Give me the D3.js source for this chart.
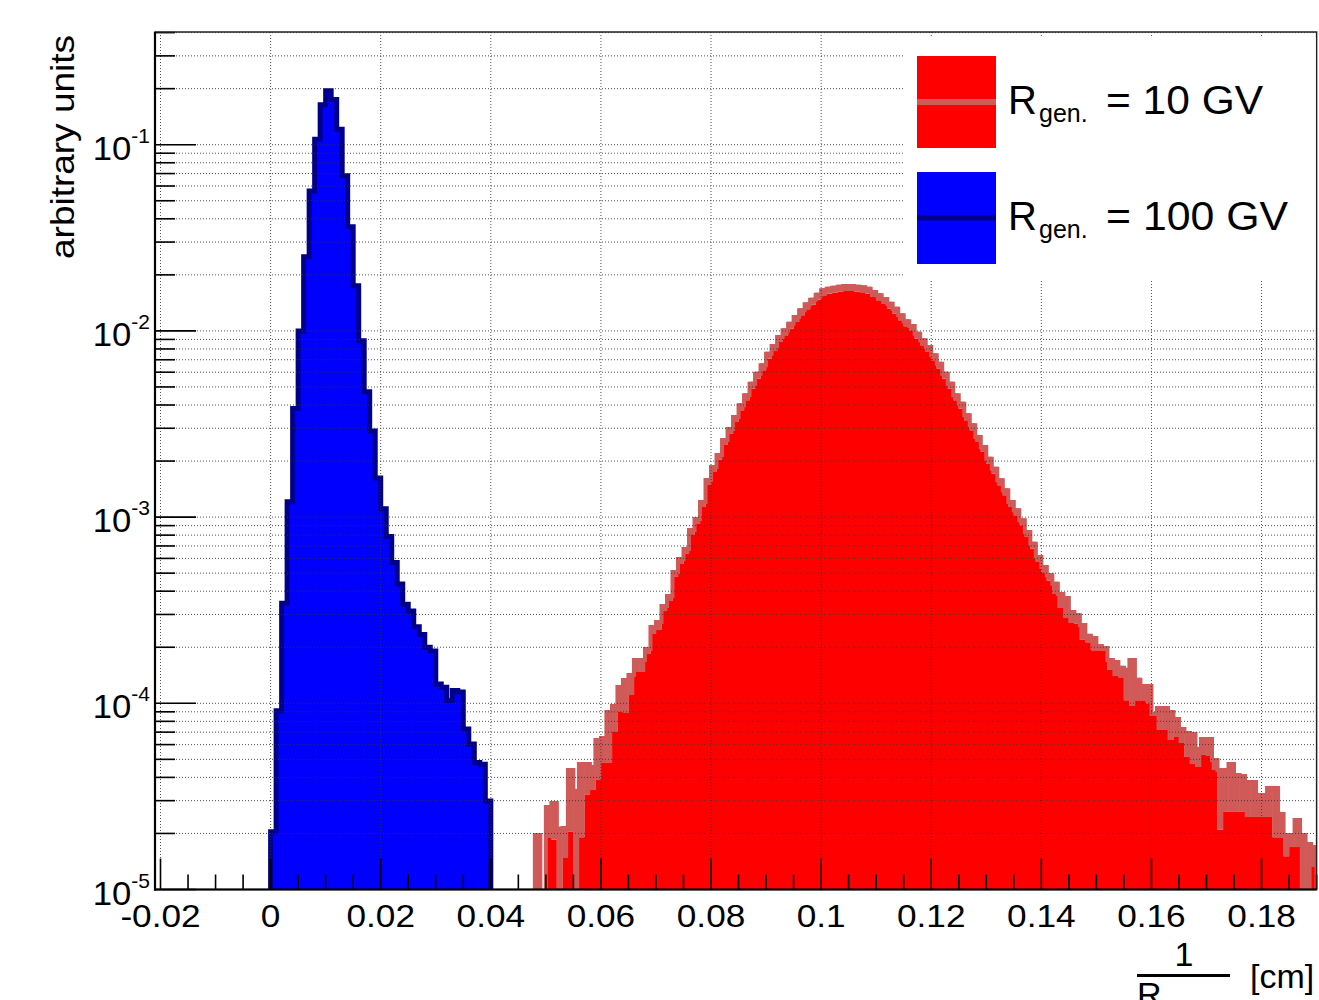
<!DOCTYPE html>
<html><head><meta charset="utf-8">
<script src="https://cdn.jsdelivr.net/npm/d3@7"></script>
<style>html,body{margin:0;padding:0;background:#fff;} svg{display:block;}</style>
</head><body>
<svg id="chart" width="1319" height="1000"></svg>
<script>
// ---------------- data ----------------
const binWidth = 0.001;

// R_gen = 100 GV (blue), bins of 0.001 starting at 0.000
const blueStart = 0.000;
const blueValues = [
  2.04e-5, 9.12e-5, 3.45e-4, 1.21e-3, 3.83e-3, 1.00e-2, 2.50e-2, 5.65e-2, 0.107, 0.164,
  0.195, 0.175, 0.121, 0.0681, 0.0362, 0.0175, 8.85e-3, 4.71e-3, 2.90e-3, 1.62e-3,
  1.11e-3, 7.87e-4, 5.70e-4, 4.37e-4, 3.40e-4, 3.13e-4, 2.58e-4, 2.34e-4, 2.00e-4, 1.91e-4,
  1.27e-4, 1.22e-4, 1.035e-4, 1.17e-4, 1.15e-4, 7.28e-5, 6.04e-5, 4.81e-5, 4.7e-5, 2.99e-5
];

// R_gen = 10 GV (red), bins of 0.001 starting at 0.048
const redStart = 0.048;
// upper edge of the light-red band
const redBand = [
  2.01e-5, 0, 2.84e-5, 2.99e-5, 2.17e-5, 2.19e-5, 4.49e-5, 3.47e-5, 4.84e-5, 4.84e-5,
  4.66e-5, 6.51e-5, 6.67e-5, 9.20e-5, 9.91e-5, 1.254e-4, 1.367e-4, 1.454e-4, 1.751e-4, 1.751e-4,
  2.006e-4, 2.634e-4, 2.802e-4, 3.414e-4, 3.864e-4, 5.20e-4, 6.11e-4, 6.91e-4, 8.74e-4, 1.001e-3,
  1.235e-3, 1.622e-3, 1.905e-3, 2.21e-3, 2.66e-3, 3.05e-3, 3.53e-3, 4.09e-3, 4.62e-3, 5.34e-3,
  6.04e-3, 6.70e-3, 7.73e-3, 8.50e-3, 9.51e-3, 1.033e-2, 1.120e-2, 1.217e-2, 1.322e-2, 1.424e-2,
  1.508e-2, 1.604e-2, 1.693e-2, 1.727e-2, 1.748e-2, 1.770e-2, 1.786e-2, 1.786e-2, 1.770e-2, 1.757e-2,
  1.727e-2, 1.658e-2, 1.592e-2, 1.521e-2, 1.435e-2, 1.349e-2, 1.243e-2, 1.154e-2, 1.089e-2, 9.90e-3,
  9.13e-3, 8.40e-3, 7.58e-3, 6.83e-3, 6.04e-3, 5.34e-3, 4.62e-3, 4.17e-3, 3.61e-3, 3.19e-3,
  2.76e-3, 2.44e-3, 2.11e-3, 1.865e-3, 1.616e-3, 1.428e-3, 1.235e-3, 1.115e-3, 9.85e-4, 8.52e-4,
  7.38e-4, 6.26e-4, 5.53e-4, 4.99e-4, 4.50e-4, 3.96e-4, 3.77e-4, 3.17e-4, 3.05e-4, 2.70e-4,
  2.36e-4, 2.30e-4, 2.08e-4, 2.03e-4, 1.75e-4, 1.71e-4, 1.59e-4, 1.55e-4, 1.75e-4, 1.37e-4,
  1.27e-4, 1.27e-4, 8.98e-5, 9.67e-5, 9.67e-5, 9.20e-5, 8.44e-5, 7.46e-5, 7.10e-5, 7.01e-5,
  5.83e-5, 6.59e-5, 6.59e-5, 5.08e-5, 4.49e-5, 4.49e-5, 4.84e-5, 4.22e-5, 4.17e-5, 3.87e-5,
  3.87e-5, 3.30e-5, 3.30e-5, 3.60e-5, 3.60e-5, 2.61e-5, 2.01e-5, 2.01e-5, 2.42e-5, 2.01e-5,
  1.80e-5, 1.73e-5
];
// filled histogram (solid red)
const redFill = [
  0, 0, 1.89e-5, 1.85e-5, 0, 1.49e-5, 2.04e-5, 0, 1.91e-5, 3.22e-5,
  3.42e-5, 3.87e-5, 4.78e-5, 4.78e-5, 7.01e-5, 8.98e-5, 8.87e-5, 1.108e-4, 1.473e-4, 1.473e-4,
  1.840e-4, 2.357e-4, 2.475e-4, 3.13e-4, 3.54e-4, 4.77e-4, 5.60e-4, 6.34e-4, 8.01e-4, 9.18e-4,
  1.133e-3, 1.487e-3, 1.747e-3, 2.03e-3, 2.44e-3, 2.80e-3, 3.24e-3, 3.75e-3, 4.24e-3, 4.90e-3,
  5.54e-3, 6.14e-3, 7.09e-3, 7.79e-3, 8.72e-3, 9.47e-3, 1.027e-2, 1.116e-2, 1.212e-2, 1.306e-2,
  1.383e-2, 1.471e-2, 1.552e-2, 1.584e-2, 1.603e-2, 1.623e-2, 1.638e-2, 1.638e-2, 1.623e-2, 1.611e-2,
  1.584e-2, 1.520e-2, 1.460e-2, 1.395e-2, 1.316e-2, 1.237e-2, 1.140e-2, 1.058e-2, 9.99e-3, 9.08e-3,
  8.37e-3, 7.70e-3, 6.95e-3, 6.26e-3, 5.54e-3, 4.90e-3, 4.24e-3, 3.82e-3, 3.31e-3, 2.93e-3,
  2.53e-3, 2.24e-3, 1.93e-3, 1.710e-3, 1.482e-3, 1.309e-3, 1.133e-3, 1.022e-3, 9.03e-4, 7.81e-4,
  6.77e-4, 5.74e-4, 5.01e-4, 4.55e-4, 3.90e-4, 3.25e-4, 2.87e-4, 2.70e-4, 2.67e-4, 2.19e-4,
  2.13e-4, 1.93e-4, 1.93e-4, 1.91e-4, 1.51e-4, 1.40e-4, 1.38e-4, 1.04e-4, 9.67e-5, 1.04e-4,
  1.04e-4, 1.00e-4, 8.65e-5, 7.19e-5, 7.19e-5, 6.35e-5, 6.59e-5, 6.12e-5, 5.15e-5, 4.72e-5,
  4.55e-5, 5.28e-5, 5.21e-5, 4.38e-5, 2.09e-5, 2.61e-5, 2.61e-5, 2.61e-5, 2.61e-5, 2.45e-5,
  2.45e-5, 2.45e-5, 2.45e-5, 2.45e-5, 1.91e-5, 1.89e-5, 1.51e-5, 1.69e-5, 1.69e-5, 0,
  0, 1.32e-5
];

const xTickValues = [-0.02, 0, 0.02, 0.04, 0.06, 0.08, 0.1, 0.12, 0.14, 0.16, 0.18];
const xTickLabels = ["-0.02", "0", "0.02", "0.04", "0.06", "0.08", "0.1", "0.12", "0.14", "0.16", "0.18"];
const yTickExponents = [-5, -4, -3, -2, -1];
const legendLabels = ["= 10 GV", "= 100 GV"];

// ---------------- layout ----------------
const svg = d3.select("#chart");
const L = 155, R = 1316.6, T = 32, B = 889.5;
const x = d3.scaleLinear().domain([-0.021, 0.19]).range([L, R]);
const y = d3.scaleLog().domain([1e-5, 0.403]).range([B, T]);
const FONT = "'Liberation Sans', Arial, Helvetica, sans-serif";
const RED = "#ff0000", BAND = "#d05a58", BLUE = "#0000ff", NAVY = "#00008b";

svg.append("rect").attr("width", 1319).attr("height", 1000).attr("fill", "#fff");
svg.append("defs").append("clipPath").attr("id", "plotclip")
  .append("rect").attr("x", L).attr("y", T).attr("width", R - L).attr("height", B - T);

const plot = svg.append("g").attr("clip-path", "url(#plotclip)");

function yc(v) { return v > 0 ? Math.min(y(v), B) : B; }
function steps(start, values, fn) {
  const pts = [];
  values.forEach((v, i) => {
    const x0 = x(start + i * binWidth), x1 = x(start + (i + 1) * binWidth);
    const yy = fn(v);
    pts.push([x0, yy], [x1, yy]);
  });
  return pts;
}
const line = d3.line();

// red filled histogram
{
  const end = redStart + redFill.length * binWidth;
  const pts = [[x(redStart), B + 2], ...steps(redStart, redFill, yc), [x(end), B + 2]];
  plot.append("path").attr("d", line(pts) + "Z").attr("fill", RED);
}
// red band (per-bin boxes + step outline)
redBand.forEach((v, i) => {
  if (!(v > 0)) return;
  const x0 = x(redStart + i * binWidth), x1 = x(redStart + (i + 1) * binWidth);
  const top = y(v);
  const bot = redFill[i] > 0 ? yc(redFill[i]) : B + 2;
  plot.append("rect").attr("x", x0 - 0.3).attr("width", x1 - x0 + 0.6)
    .attr("y", top).attr("height", Math.max(0, bot - top)).attr("fill", BAND);
});
{
  const end = redStart + redBand.length * binWidth;
  const pts = [[x(redStart), B + 6], ...steps(redStart, redBand, v => v > 0 ? y(v) + 2 : B + 6), [x(end), B + 6]];
  plot.append("path").attr("d", line(pts)).attr("fill", "none")
    .attr("stroke", BAND).attr("stroke-width", 4);
}
// blue histogram
{
  const end = blueStart + blueValues.length * binWidth;
  const pts = [[x(blueStart), B + 6], ...steps(blueStart, blueValues, yc), [x(end), B + 6]];
  plot.append("path").attr("d", line(pts) + "Z").attr("fill", BLUE);
  plot.append("path").attr("d", line(pts)).attr("fill", "none")
    .attr("stroke", NAVY).attr("stroke-width", 5).attr("stroke-linejoin", "miter");
}

// ---------------- grid ----------------
const gridG = svg.append("g").attr("stroke", "#333").attr("stroke-width", 1)
  .attr("stroke-dasharray", "1,2").attr("opacity", 0.85);
const yMinor = [];
yTickExponents.forEach(p => {
  for (let m = 1; m <= 9; m++) {
    const v = m * Math.pow(10, p);
    if (v <= 0.403) yMinor.push({ v, major: m === 1 });
  }
});
yMinor.forEach(t => {
  if (t.v === 1e-5) return;
  gridG.append("line").attr("x1", L).attr("x2", R).attr("y1", y(t.v)).attr("y2", y(t.v));
});
xTickValues.forEach(v => {
  gridG.append("line").attr("x1", x(v)).attr("x2", x(v)).attr("y1", T).attr("y2", B);
});

// ---------------- ticks ----------------
const tickG = svg.append("g").attr("stroke", "#000").attr("stroke-width", 1.6);
yMinor.forEach(t => {
  tickG.append("line").attr("x1", L).attr("x2", L + (t.major ? 41 : 20))
    .attr("y1", y(t.v)).attr("y2", y(t.v));
});
d3.range(-0.02, 0.1901, 0.005).forEach(v => {
  const vv = Math.round(v * 1000) / 1000;
  const major = Math.abs(Math.round(vv / 0.02) * 0.02 - vv) < 1e-9;
  tickG.append("line").attr("x1", x(vv)).attr("x2", x(vv))
    .attr("y1", B).attr("y2", B - (major ? 31 : 15));
});

// frame
svg.append("rect").attr("x", L).attr("y", T).attr("width", R - L).attr("height", B - T)
  .attr("fill", "none").attr("stroke", "#222").attr("stroke-width", 1.5);
svg.append("line").attr("x1", L).attr("x2", L).attr("y1", T).attr("y2", B + 1)
  .attr("stroke", "#000").attr("stroke-width", 2.2);
svg.append("line").attr("x1", L - 1).attr("x2", R).attr("y1", B).attr("y2", B)
  .attr("stroke", "#000").attr("stroke-width", 2.2);

// ---------------- legend ----------------
svg.append("rect").attr("x", 905).attr("y", 37).attr("width", R - 905 - 1).attr("height", 243).attr("fill", "#fff");
const leg = [
  { fill: RED, line: BAND, lw: 6, top: 56, label: legendLabels[0], len: 157 },
  { fill: BLUE, line: NAVY, lw: 5, top: 172, label: legendLabels[1], len: 182 }
];
leg.forEach(e => {
  svg.append("rect").attr("x", 917).attr("y", e.top).attr("width", 79).attr("height", 92).attr("fill", e.fill);
  svg.append("line").attr("x1", 917).attr("x2", 996).attr("y1", e.top + 46).attr("y2", e.top + 46)
    .attr("stroke", e.line).attr("stroke-width", e.lw);
  const base = e.top + 57.5;
  svg.append("text").attr("x", 1008).attr("y", base).style("font-family", FONT).style("font-size", "40px").text("R");
  svg.append("text").attr("x", 1039).attr("y", base + 8.5).style("font-family", FONT).style("font-size", "25px").text("gen.");
  svg.append("text").attr("x", 1106).attr("y", base).style("font-family", FONT).style("font-size", "40px")
    .attr("textLength", e.len).attr("lengthAdjust", "spacingAndGlyphs").text(e.label);
});

// ---------------- labels ----------------
yTickExponents.forEach(p => {
  const t = svg.append("text")
    .attr("transform", `translate(150,${y(Math.pow(10, p)) + 15}) scale(1.05,1)`)
    .attr("text-anchor", "end").style("font-family", FONT).style("font-size", "33px");
  t.append("tspan").text("10");
  t.append("tspan").attr("dy", -17).style("font-size", "20px").text(String(p));
});
xTickValues.forEach((v, i) => {
  svg.append("text").attr("transform", `translate(${x(v)},927) scale(1.1,1)`)
    .attr("text-anchor", "middle").style("font-family", FONT).style("font-size", "32px")
    .text(xTickLabels[i]);
});
// y title
svg.append("text").attr("transform", "translate(74,259) rotate(-90)")
  .style("font-family", FONT).style("font-size", "33px")
  .attr("textLength", 224).attr("lengthAdjust", "spacingAndGlyphs").text("arbitrary units");
// x title: 1/R_gen. [cm]
svg.append("text").attr("x", 1184).attr("y", 966).attr("text-anchor", "middle")
  .style("font-family", FONT).style("font-size", "34px").text("1");
svg.append("line").attr("x1", 1137).attr("x2", 1230).attr("y1", 975.5).attr("y2", 975.5)
  .attr("stroke", "#000").attr("stroke-width", 3);
svg.append("text").attr("x", 1137).attr("y", 1006).style("font-family", FONT).style("font-size", "34px").text("R");
svg.append("text").attr("x", 1161).attr("y", 1016).style("font-family", FONT).style("font-size", "24px").text("gen.");
svg.append("text").attr("x", 1250).attr("y", 988).style("font-family", FONT).style("font-size", "34px").text("[cm]");
</script>
</body></html>
